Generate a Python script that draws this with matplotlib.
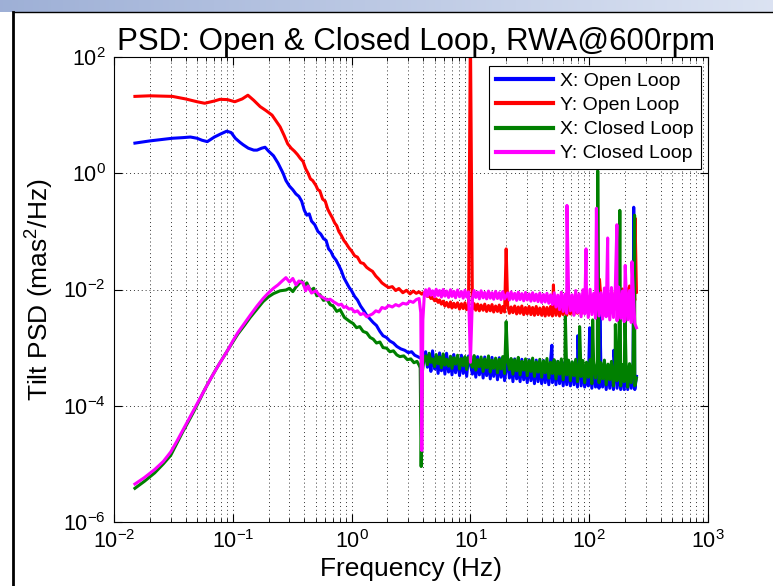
import numpy as np
import matplotlib
matplotlib.use("Agg")
import matplotlib.pyplot as plt
from matplotlib.lines import Line2D
from matplotlib.ticker import LogLocator, NullLocator, LogFormatterSciNotation

plt.rcParams['font.family'] = ['Liberation Sans', 'DejaVu Sans']
plt.rcParams['mathtext.fontset'] = 'custom'
plt.rcParams['mathtext.rm'] = 'Liberation Sans'
plt.rcParams['mathtext.it'] = 'Liberation Sans:italic'
plt.rcParams['mathtext.default'] = 'regular'

title = "PSD: Open & Closed Loop, RWA@600rpm"
x_label = "Frequency (Hz)"
y_label = "Tilt PSD (mas$^2$/Hz)"
series_names = ["X: Open Loop", "Y: Open Loop", "X: Closed Loop", "Y: Closed Loop"]
series_colors = ["#0000ff", "#ff0000", "#008000", "#ff00ff"]

# ---- low-frequency part of each spectrum (Hz, mas^2/Hz) ----
x_open_f = [0.015, 0.02, 0.025, 0.031, 0.038, 0.044, 0.05, 0.055, 0.061, 0.07,
            0.08, 0.089, 0.097, 0.105, 0.115, 0.122, 0.135, 0.15, 0.16, 0.175,
            0.187, 0.2, 0.22, 0.24,
            0.265, 0.28, 0.3, 0.32, 0.34, 0.36, 0.38, 0.4, 0.42, 0.44,
            0.46, 0.49, 0.52, 0.55, 0.58, 0.61, 0.64, 0.67, 0.7, 0.74,
            0.78, 0.82, 0.86, 0.9, 0.95, 1.0, 1.06, 1.12, 1.19, 1.26,
            1.34, 1.43, 1.52, 1.62, 1.73, 1.84, 1.96, 2.1, 2.25, 2.4,
            2.6, 2.8, 3.0, 3.2, 3.4, 3.6, 3.8, 4.0]
x_open_p = [3.3, 3.6, 3.8, 4.0, 4.1, 4.2, 4.0, 3.7, 3.5, 4.2,
            4.8, 5.3, 5.0, 4.0, 3.4, 3.1, 2.7, 2.5, 2.5, 2.7,
            2.8, 2.4, 2.0, 1.5,
            1.0, 0.75, 0.6, 0.52, 0.44, 0.4, 0.33, 0.23, 0.19, 0.2,
            0.15, 0.13, 0.1, 0.09, 0.075, 0.07, 0.05, 0.045, 0.037, 0.032,
            0.026, 0.021, 0.016, 0.0135, 0.011, 0.0095, 0.0076, 0.0066, 0.0052, 0.0044,
            0.0036, 0.0031, 0.0027, 0.0024, 0.0019, 0.0016, 0.0015, 0.0013, 0.0012, 0.00105,
            0.00095, 0.0009, 0.00082, 0.00085, 0.00074, 0.0007, 0.00066, 0.0007]

y_open_f = [0.015, 0.02, 0.031, 0.04, 0.05, 0.058, 0.07, 0.078, 0.09, 0.104,
            0.12, 0.134, 0.15, 0.17, 0.19, 0.214,
            0.25, 0.27, 0.29, 0.31, 0.33, 0.35, 0.37, 0.39, 0.41, 0.43,
            0.45, 0.47, 0.5, 0.52, 0.54, 0.57, 0.6, 0.63, 0.66, 0.69,
            0.72, 0.75, 0.78, 0.82, 0.86, 0.9, 0.95, 1.0, 1.06, 1.12,
            1.19, 1.26, 1.34, 1.42, 1.5, 1.6, 1.7, 1.8, 1.92, 2.05,
            2.2, 2.35, 2.5, 2.7, 2.9, 3.1, 3.3, 3.5, 3.7, 3.9, 4.0]
y_open_p = [21, 21.5, 21, 19, 17, 16, 17.5, 18.7, 18.5, 17,
            19, 22, 18, 14, 12, 10,
            6.3, 4.5, 3.2, 2.7, 2.4, 2.1, 1.8, 1.6, 1.2, 1.0,
            0.8, 0.75, 0.62, 0.52, 0.5, 0.36, 0.33, 0.24, 0.2, 0.17,
            0.14, 0.125, 0.1, 0.085, 0.07, 0.062, 0.052, 0.046, 0.038, 0.036,
            0.029, 0.028, 0.024, 0.022, 0.0205, 0.017, 0.015, 0.013, 0.0118, 0.0108,
            0.0112, 0.0096, 0.0104, 0.0088, 0.0097, 0.0084, 0.0094, 0.0086, 0.0091, 0.0083, 0.0088]

x_closed_f = [0.015, 0.018, 0.022, 0.026, 0.03, 0.034, 0.038, 0.042, 0.047, 0.052,
              0.058, 0.065, 0.073, 0.082, 0.092, 0.1, 0.11, 0.125, 0.14, 0.16,
              0.18, 0.2, 0.22, 0.25, 0.28, 0.3, 0.32, 0.34, 0.36, 0.38,
              0.4, 0.42, 0.45, 0.48, 0.51, 0.54, 0.58, 0.62, 0.66, 0.7,
              0.75, 0.8, 0.87,
              0.97, 1.03, 1.1, 1.17, 1.25, 1.34, 1.43, 1.52, 1.62, 1.73,
              1.84, 1.97, 2.1, 2.25, 2.4, 2.55, 2.75, 2.95, 3.15, 3.35,
              3.55, 3.7, 3.78, 3.85, 3.95, 4.05]
x_closed_p = [3.8e-6, 5.0e-6, 7.0e-6, 1.0e-5, 1.4e-5, 2.3e-5, 3.6e-5, 5.2e-5, 8.0e-5, 1.2e-4,
              1.9e-4, 2.9e-4, 4.4e-4, 6.5e-4, 9.5e-4, 1.25e-3, 1.7e-3, 2.4e-3, 3.3e-3, 4.6e-3,
              6.2e-3, 7.5e-3, 8.5e-3, 9.5e-3, 9.8e-3, 0.0105, 0.0092, 0.011, 0.0125, 0.014,
              0.0115, 0.013, 0.0095, 0.0105, 0.0078, 0.0082, 0.0065, 0.0068, 0.0055, 0.0052,
              0.0042, 0.0045, 0.0033,
              0.0028, 0.0026, 0.0022, 0.0023, 0.0019, 0.0018, 0.0015, 0.0014, 0.0012, 0.00125,
              0.001, 0.00098, 0.00085, 0.00088, 0.00075, 0.0007, 0.00072, 0.00062, 0.00064, 0.00055,
              0.00058, 0.0005, 0.00045, 9e-6, 0.0004, 0.0006]

y_closed_f = [0.015, 0.018, 0.022, 0.026, 0.03, 0.034, 0.038, 0.042, 0.047, 0.052,
              0.058, 0.065, 0.073, 0.082, 0.092, 0.1, 0.11, 0.125, 0.14, 0.16,
              0.18, 0.2, 0.22, 0.24, 0.26, 0.28, 0.3, 0.32, 0.34, 0.36,
              0.39, 0.41, 0.43, 0.46, 0.5, 0.54, 0.58, 0.62, 0.66,
              0.7, 0.74, 0.78, 0.82, 0.86, 0.9, 0.95, 1.0, 1.06, 1.12,
              1.19, 1.26, 1.34, 1.42, 1.5, 1.6, 1.7, 1.8, 1.92, 2.05,
              2.2, 2.35, 2.5, 2.7, 2.9, 3.1, 3.3, 3.5, 3.7, 3.82,
              3.9, 3.98, 4.1]
y_closed_p = [4.5e-6, 5.8e-6, 8e-6, 1.1e-5, 1.6e-5, 2.5e-5, 3.8e-5, 5.5e-5, 8.5e-5, 1.25e-4,
              1.9e-4, 2.9e-4, 4.4e-4, 6.5e-4, 9.5e-4, 1.3e-3, 1.8e-3, 2.6e-3, 3.6e-3, 5.2e-3,
              7.0e-3, 8.8e-3, 0.0105, 0.012, 0.014, 0.016, 0.0135, 0.0155, 0.012, 0.014,
              0.013, 0.0095, 0.0115, 0.0087, 0.0095, 0.0078, 0.0072, 0.0066, 0.0068,
              0.0062, 0.0058, 0.0054, 0.0056, 0.0049, 0.0051, 0.0046, 0.0047, 0.0041, 0.0043,
              0.0037, 0.0039, 0.0034, 0.0036, 0.0038, 0.0043, 0.0041, 0.0049, 0.0047, 0.0053,
              0.005, 0.0055, 0.0052, 0.0058, 0.0056, 0.0063, 0.006, 0.0067, 0.007, 0.004,
              1.7e-5, 0.003, 0.0085]

# ---- broadband noise floor, 4.2-250 Hz ----
band_f = [4.2, 4.35, 4.5, 4.65, 4.8, 5.0, 5.15, 5.35, 5.5, 5.7,
          5.9, 6.1, 6.3, 6.55, 6.8, 7.0, 7.25, 7.5, 7.8, 8.1,
          8.4, 8.7, 9.0, 9.3, 9.65, 10.4, 10.75, 11.1, 11.5, 11.9,
          12.3, 12.8, 13.2, 13.7, 14.2, 14.7, 15.2, 15.7, 16.3, 16.9,
          17.5, 18.1, 18.7, 19.4, 20.6, 21.3, 22.0, 22.8, 23.6, 24.5,
          25.3, 26.2, 27.1, 28.1, 29.1, 30.1, 31.2, 32.3, 33.4, 34.6,
          35.8, 37.1, 38.4, 39.8, 41.2, 42.6, 44.1, 45.7, 47.3, 49.0,
          50.7, 52.5, 54.4, 56.3, 58.3, 60.4, 62.5, 64.7, 67.0, 69.4,
          71.8, 74.4, 77.0, 79.7, 82.5, 85.5, 88.5, 91.6, 94.9, 98.2,
          101.7, 105.3, 109, 113, 117, 121, 125.3, 129.7, 134.3, 139,
          144, 149, 154, 160, 165.5, 171.5, 177.5, 184, 190.5, 197,
          204, 211, 218.5, 226, 234, 242, 250]

# X open loop, units of 1e-4
x_open_band_e4 = [8.5, 4.6, 7.6, 3.9, 8.8, 4.3, 7.0, 3.6, 8.1, 4.0,
                  7.3, 3.5, 8.0, 3.8, 6.9, 3.4, 7.6, 3.7, 6.7, 3.3,
                  7.4, 3.6, 6.6, 3.2, 7.2, 3.5, 6.4, 3.1, 7.0, 3.4,
                  6.3, 3.0, 6.9, 3.3, 6.2, 2.9, 6.8, 3.2, 6.0, 2.8,
                  6.7, 3.1, 5.9, 2.7, 6.5, 3.0, 5.8, 2.6, 6.4, 2.9,
                  5.7, 2.6, 6.3, 2.8, 5.6, 2.5, 6.2, 2.7, 5.5, 2.4,
                  6.1, 2.6, 5.4, 2.4, 6.0, 2.5, 5.3, 2.3, 5.9, 2.5,
                  5.2, 2.3, 5.8, 2.4, 5.1, 2.2, 5.7, 2.3, 5.0, 2.2,
                  5.6, 2.3, 4.9, 2.1, 5.5, 2.2, 4.8, 2.1, 5.4, 2.2,
                  4.8, 2.0, 5.3, 2.1, 4.7, 2.0, 5.2, 2.1, 4.6, 1.9,
                  5.1, 2.0, 4.6, 1.9, 5.0, 2.0, 4.5, 1.9, 5.0, 1.9,
                  4.5, 1.9, 4.9, 2.0, 4.6, 1.9, 3.2]
# Y open loop, units of 1e-3
y_open_band_e3 = [8.4, 7.6, 8.0, 7.0, 7.4, 6.4, 6.9, 6.0, 6.6, 5.6,
                  6.3, 5.2, 6.0, 5.0, 6.1, 4.8, 5.8, 4.9, 5.9, 4.6,
                  5.7, 4.7, 5.9, 4.5, 5.5, 4.6, 5.7, 4.4, 5.6, 4.3,
                  5.4, 4.4, 5.6, 4.2, 5.3, 4.3, 5.5, 4.1, 5.2, 4.2,
                  5.4, 4.0, 5.1, 4.1, 5.3, 3.9, 5.0, 4.0, 5.2, 3.8,
                  5.0, 3.9, 5.2, 3.7, 4.9, 3.8, 5.1, 3.7, 4.9, 3.6,
                  5.1, 3.7, 4.8, 3.6, 5.0, 3.5, 4.9, 3.6, 5.1, 3.5,
                  4.9, 3.6, 5.2, 3.5, 5.0, 3.7, 5.3, 3.6, 5.2, 3.8,
                  5.5, 3.7, 5.4, 3.9, 5.8, 3.8, 5.7, 4.0, 6.1, 4.0,
                  6.0, 4.2, 6.5, 4.3, 6.8, 4.5, 7.2, 4.6, 7.6, 4.8,
                  8.0, 5.0, 8.5, 5.2, 9.0, 5.4, 9.6, 5.6, 10.2, 5.8,
                  10.8, 6.0, 11.5, 6.3, 12.0, 6.5, 9.0]
# X closed loop, units of 1e-4
x_closed_band_e4 = [7.2, 5.1, 8.0, 5.6, 6.4, 4.7, 7.6, 5.3, 6.9, 4.5,
                    7.8, 5.0, 6.3, 4.8, 7.1, 4.4, 6.7, 5.2, 7.4, 4.3,
                    6.5, 4.9, 7.0, 4.2, 6.8, 4.6, 7.3, 4.1, 6.2, 4.7,
                    6.9, 3.9, 6.4, 4.5, 7.2, 3.8, 6.1, 4.4, 6.6, 3.7,
                    6.3, 4.3, 7.0, 3.6, 5.9, 4.2, 6.5, 3.5, 6.2, 4.0,
                    6.8, 3.4, 5.8, 4.1, 6.4, 3.3, 6.0, 3.9, 6.6, 3.2,
                    5.7, 3.8, 6.3, 3.1, 5.9, 3.7, 6.5, 3.0, 5.6, 3.6,
                    6.2, 2.9, 5.8, 3.5, 6.4, 2.8, 5.5, 3.4, 6.1, 2.7,
                    5.7, 3.3, 6.3, 2.6, 5.4, 3.2, 6.0, 2.5, 5.6, 3.1,
                    6.2, 2.4, 5.3, 3.0, 5.9, 2.5, 5.5, 2.9, 6.1, 2.3,
                    5.2, 2.8, 5.8, 2.2, 5.4, 2.7, 6.0, 2.2, 5.1, 2.6,
                    5.7, 2.1, 5.3, 2.5, 5.6, 2.2, 3.0]
# Y closed loop, units of 1e-3
y_closed_band_e3 = [9.9, 7.7, 10.3, 8.0, 9.5, 7.5, 10.1, 7.9, 9.6, 7.4,
                    10.0, 7.7, 9.4, 7.3, 9.9, 7.6, 9.3, 7.2, 9.8, 7.5,
                    9.2, 7.1, 9.7, 7.4, 9.1, 7.0, 9.6, 7.3, 9.0, 6.9,
                    9.5, 7.2, 8.9, 6.9, 9.4, 7.1, 8.8, 6.8, 9.3, 7.0,
                    8.8, 6.7, 9.2, 6.9, 8.7, 6.6, 9.1, 6.8, 8.6, 6.5,
                    9.0, 6.7, 8.5, 6.4, 8.9, 6.6, 8.4, 6.3, 8.8, 6.4,
                    8.3, 6.2, 8.7, 6.0, 8.2, 6.1, 8.6, 5.8, 8.1, 5.5,
                    8.8, 5.0, 8.0, 4.5, 9.0, 4.2, 8.3, 3.9, 9.3, 4.3,
                    8.1, 3.6, 9.6, 4.0, 8.4, 3.4, 9.9, 3.8, 8.2, 3.3,
                    10.1, 3.7, 8.6, 3.2, 10.3, 3.5, 8.8, 3.1, 10.6, 3.4,
                    9.0, 3.0, 10.8, 3.3, 9.2, 2.9, 11.0, 3.2, 9.4, 2.8,
                    11.2, 3.0, 9.6, 2.7, 11.0, 2.6, 2.2]

# ---- narrow-band lines (Hz, mas^2/Hz) ----
x_open_line_f = [48.5, 80, 101, 123, 161, 237]
x_open_line_p = [1.1e-3, 1.6e-3, 2.2e-3, 4e-3, 9e-4, 0.26]
y_open_line_f = [10.0, 20.0, 50.0, 122, 243]
y_open_line_p = [300, 0.05, 0.012, 0.015, 0.17]
x_closed_line_f = [20.0, 63, 83, 107, 118, 166, 181, 200, 241]
x_closed_line_p = [2.8e-3, 3.4e-3, 2.3e-3, 3e-3, 1.1, 2.5e-3, 0.23, 4e-3, 0.19]
y_closed_line_f = [10.0, 65, 94, 115, 143, 171, 201, 229]
y_closed_line_p = [5.6e-4, 0.28, 0.05, 0.25, 0.077, 0.13, 0.026, 0.03]


def assemble(low_f, low_p, band_vals, scale, line_f, line_p):
    f = np.concatenate([low_f, band_f, line_f]).astype(float)
    p = np.concatenate([low_p, np.asarray(band_vals) * scale, line_p]).astype(float)
    order = np.argsort(f, kind="stable")
    return f[order], p[order]


series = [
    assemble(x_open_f, x_open_p, x_open_band_e4, 1e-4, x_open_line_f, x_open_line_p),
    assemble(y_open_f, y_open_p, y_open_band_e3, 1e-3, y_open_line_f, y_open_line_p),
    assemble(x_closed_f, x_closed_p, x_closed_band_e4, 1e-4, x_closed_line_f, x_closed_line_p),
    assemble(y_closed_f, y_closed_p, y_closed_band_e3, 1e-3, y_closed_line_f, y_closed_line_p),
]

W, H = 773, 586
fig = plt.figure(figsize=(W / 100, H / 100), dpi=100)
fig.patch.set_facecolor("white")

# window chrome: gradient strip along the top and a dark left edge
strip = fig.add_axes([0, 1 - 12 / H, 1, 12 / H])
grad = np.linspace(0, 1, 256)[None, :, None]
c0 = np.array([0.62, 0.69, 0.84])
c1 = np.array([0.86, 0.89, 0.95])
strip.imshow(c0 + (c1 - c0) * grad, aspect="auto", extent=[0, 1, 0, 1])
strip.set_axis_off()
fig.add_artist(Line2D([13 / W, 13 / W], [0, 1 - 12 / H], transform=fig.transFigure,
                      color="black", linewidth=2.0))
fig.add_artist(Line2D([13 / W, 1], [1 - 12 / H, 1 - 12 / H], transform=fig.transFigure,
                      color="black", linewidth=1.0))

ax = fig.add_axes([114 / W, 1 - 522 / H, 594 / W, 465 / H])
for (f, p), name, col in zip(series, series_names, series_colors):
    ax.loglog(f, p, color=col, linewidth=2.2, label=name)

ax.set_xlim(1e-2, 1e3)
ax.set_ylim(1e-6, 1e2)
ax.xaxis.set_major_locator(LogLocator(base=10, numticks=10))
ax.xaxis.set_minor_locator(LogLocator(base=10, subs=np.arange(2, 10), numticks=20))
ax.set_yticks([1e-6, 1e-4, 1e-2, 1e0, 1e2])
ax.yaxis.set_minor_locator(NullLocator())
ax.xaxis.set_major_formatter(LogFormatterSciNotation())
ax.yaxis.set_major_formatter(LogFormatterSciNotation())

ax.tick_params(which="both", direction="in", top=True, right=True, colors="black")
ax.tick_params(which="major", length=6, width=0.8, labelsize=15.5, pad=6)
ax.tick_params(which="minor", length=3, width=0.6)

ax.grid(True, which="major", axis="both", linestyle=(0, (1, 3)), color="#333333", linewidth=0.7)
ax.grid(True, which="minor", axis="x", linestyle=(0, (1, 3)), color="#333333", linewidth=0.7)
for s in ax.spines.values():
    s.set_linewidth(0.8)
    s.set_color("black")

ax.set_title(title, fontsize=22.5, pad=5, x=0.508)
ax.set_xlabel(x_label, fontsize=19, labelpad=3)
ax.set_ylabel(y_label, fontsize=19, labelpad=5)

leg = ax.legend(loc="upper right", bbox_to_anchor=(0.988, 0.981), borderaxespad=0,
                fontsize=14, handlelength=2.9, labelspacing=0.33, handletextpad=0.4,
                borderpad=0.35, fancybox=False, framealpha=1, edgecolor="black")
leg.get_frame().set_linewidth(0.8)
for h in leg.get_lines():
    h.set_linewidth(3)

fig.savefig("out.png", dpi=100, facecolor="white")
